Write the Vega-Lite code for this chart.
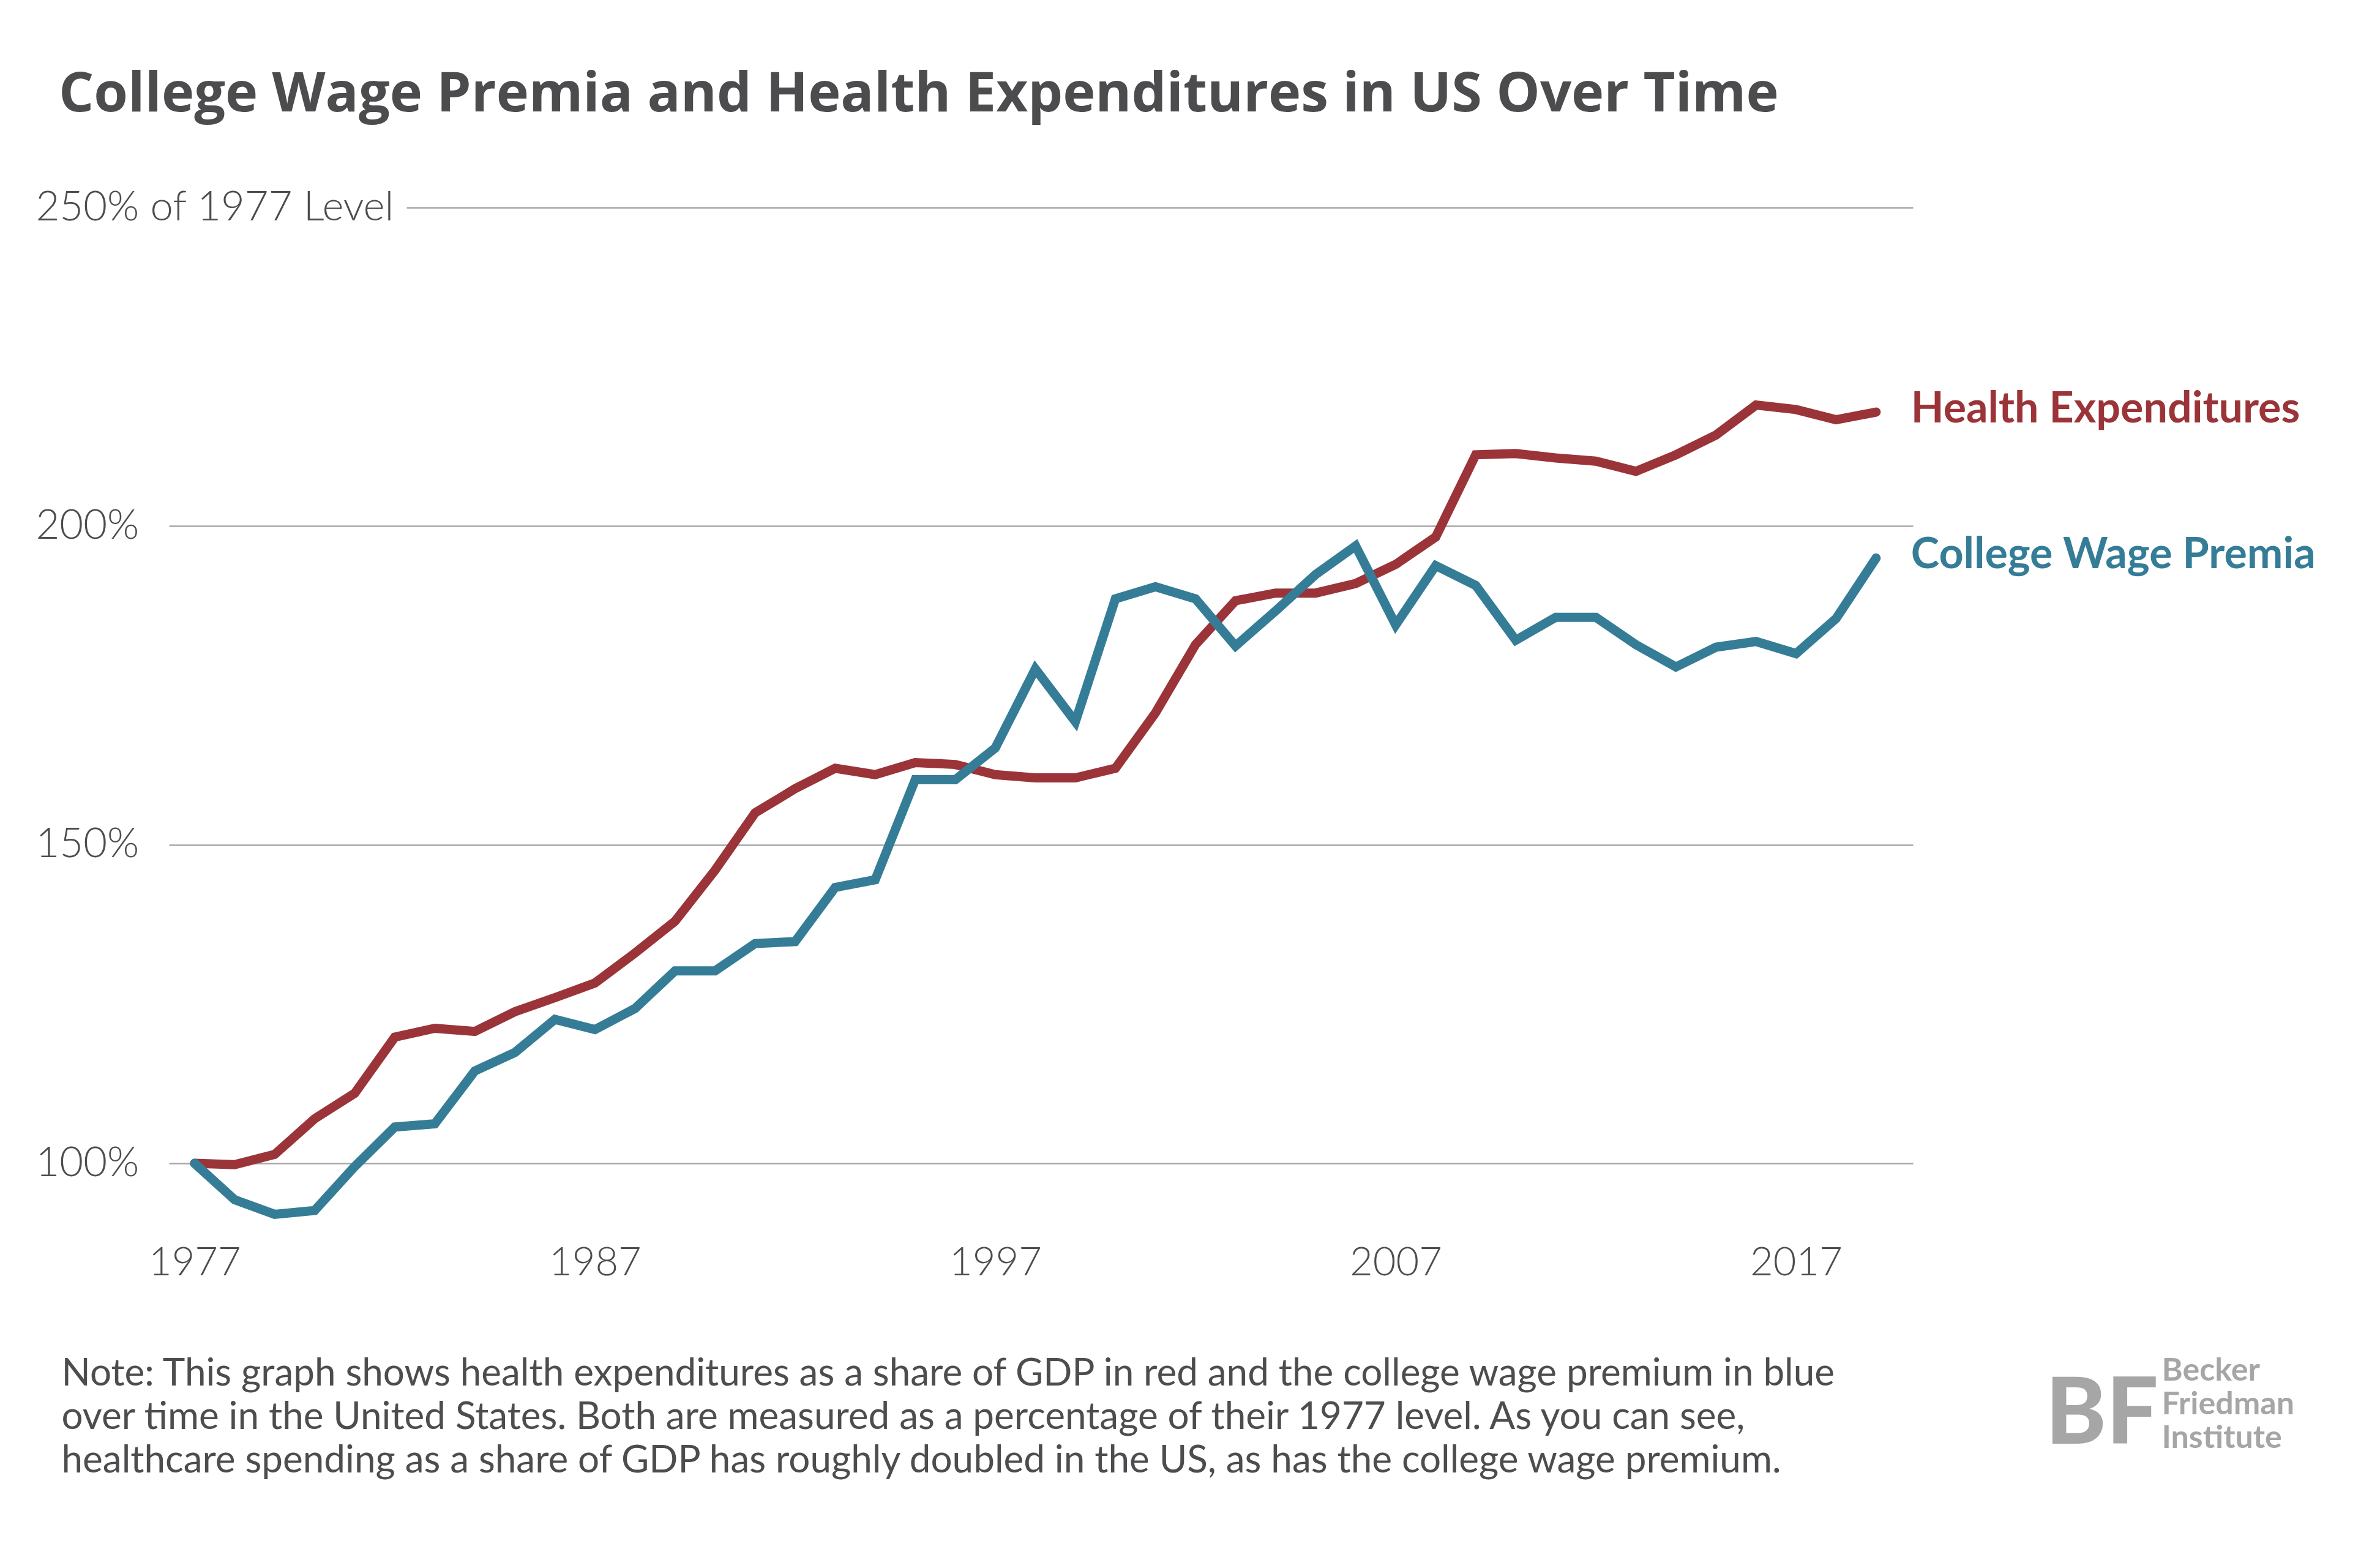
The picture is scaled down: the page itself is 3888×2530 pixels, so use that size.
{
  "$schema": "https://vega.github.io/schema/vega-lite/v6.json",
  "width": 2849,
  "height": 1686,
  "autosize": "none",
  "padding": {"left": 276, "top": 339, "right": 763, "bottom": 505},
  "background": "white",
  "config": {"view": {"stroke": null}, "font": "Lato"},
  "title": {
    "text": "College Wage Premia and Health Expenditures in US Over Time",
    "anchor": "start",
    "frame": "group",
    "dx": -180,
    "offset": 33,
    "baseline": "alphabetic",
    "fontSize": 90,
    "font": "Open Sans",
    "fontWeight": "bold",
    "color": "#4c4c4e"
  },
  "data": {
    "values": [
      {"year": 1977, "series": "Health Expenditures", "value": 100},
      {"year": 1978, "series": "Health Expenditures", "value": 99.8},
      {"year": 1979, "series": "Health Expenditures", "value": 101.4},
      {"year": 1980, "series": "Health Expenditures", "value": 107},
      {"year": 1981, "series": "Health Expenditures", "value": 111},
      {"year": 1982, "series": "Health Expenditures", "value": 119.8},
      {"year": 1983, "series": "Health Expenditures", "value": 121.2},
      {"year": 1984, "series": "Health Expenditures", "value": 120.7},
      {"year": 1985, "series": "Health Expenditures", "value": 123.8},
      {"year": 1986, "series": "Health Expenditures", "value": 126},
      {"year": 1987, "series": "Health Expenditures", "value": 128.3},
      {"year": 1988, "series": "Health Expenditures", "value": 133},
      {"year": 1989, "series": "Health Expenditures", "value": 138},
      {"year": 1990, "series": "Health Expenditures", "value": 146},
      {"year": 1991, "series": "Health Expenditures", "value": 155},
      {"year": 1992, "series": "Health Expenditures", "value": 158.8},
      {"year": 1993, "series": "Health Expenditures", "value": 162},
      {"year": 1994, "series": "Health Expenditures", "value": 161},
      {"year": 1995, "series": "Health Expenditures", "value": 162.9},
      {"year": 1996, "series": "Health Expenditures", "value": 162.6},
      {"year": 1997, "series": "Health Expenditures", "value": 161},
      {"year": 1998, "series": "Health Expenditures", "value": 160.5},
      {"year": 1999, "series": "Health Expenditures", "value": 160.5},
      {"year": 2000, "series": "Health Expenditures", "value": 162},
      {"year": 2001, "series": "Health Expenditures", "value": 170.7},
      {"year": 2002, "series": "Health Expenditures", "value": 181.4},
      {"year": 2003, "series": "Health Expenditures", "value": 188.3},
      {"year": 2004, "series": "Health Expenditures", "value": 189.5},
      {"year": 2005, "series": "Health Expenditures", "value": 189.5},
      {"year": 2006, "series": "Health Expenditures", "value": 191},
      {"year": 2007, "series": "Health Expenditures", "value": 194},
      {"year": 2008, "series": "Health Expenditures", "value": 198.3},
      {"year": 2009, "series": "Health Expenditures", "value": 211.2},
      {"year": 2010, "series": "Health Expenditures", "value": 211.4},
      {"year": 2011, "series": "Health Expenditures", "value": 210.7},
      {"year": 2012, "series": "Health Expenditures", "value": 210.2},
      {"year": 2013, "series": "Health Expenditures", "value": 208.6},
      {"year": 2014, "series": "Health Expenditures", "value": 211.2},
      {"year": 2015, "series": "Health Expenditures", "value": 214.3},
      {"year": 2016, "series": "Health Expenditures", "value": 219},
      {"year": 2017, "series": "Health Expenditures", "value": 218.3},
      {"year": 2018, "series": "Health Expenditures", "value": 216.7},
      {"year": 2019, "series": "Health Expenditures", "value": 217.9},
      {"year": 1977, "series": "College Wage Premia", "value": 100},
      {"year": 1978, "series": "College Wage Premia", "value": 94.3},
      {"year": 1979, "series": "College Wage Premia", "value": 92},
      {"year": 1980, "series": "College Wage Premia", "value": 92.6},
      {"year": 1981, "series": "College Wage Premia", "value": 99.5},
      {"year": 1982, "series": "College Wage Premia", "value": 105.7},
      {"year": 1983, "series": "College Wage Premia", "value": 106.2},
      {"year": 1984, "series": "College Wage Premia", "value": 114.5},
      {"year": 1985, "series": "College Wage Premia", "value": 117.4},
      {"year": 1986, "series": "College Wage Premia", "value": 122.6},
      {"year": 1987, "series": "College Wage Premia", "value": 121},
      {"year": 1988, "series": "College Wage Premia", "value": 124.3},
      {"year": 1989, "series": "College Wage Premia", "value": 130.2},
      {"year": 1990, "series": "College Wage Premia", "value": 130.2},
      {"year": 1991, "series": "College Wage Premia", "value": 134.5},
      {"year": 1992, "series": "College Wage Premia", "value": 134.8},
      {"year": 1993, "series": "College Wage Premia", "value": 143.3},
      {"year": 1994, "series": "College Wage Premia", "value": 144.5},
      {"year": 1995, "series": "College Wage Premia", "value": 160.2},
      {"year": 1996, "series": "College Wage Premia", "value": 160.2},
      {"year": 1997, "series": "College Wage Premia", "value": 165.2},
      {"year": 1998, "series": "College Wage Premia", "value": 177.6},
      {"year": 1999, "series": "College Wage Premia", "value": 169.3},
      {"year": 2000, "series": "College Wage Premia", "value": 188.6},
      {"year": 2001, "series": "College Wage Premia", "value": 190.5},
      {"year": 2002, "series": "College Wage Premia", "value": 188.6},
      {"year": 2003, "series": "College Wage Premia", "value": 181.2},
      {"year": 2004, "series": "College Wage Premia", "value": 186.7},
      {"year": 2005, "series": "College Wage Premia", "value": 192.4},
      {"year": 2006, "series": "College Wage Premia", "value": 196.9},
      {"year": 2007, "series": "College Wage Premia", "value": 184.5},
      {"year": 2008, "series": "College Wage Premia", "value": 193.8},
      {"year": 2009, "series": "College Wage Premia", "value": 190.7},
      {"year": 2010, "series": "College Wage Premia", "value": 182.1},
      {"year": 2011, "series": "College Wage Premia", "value": 185.7},
      {"year": 2012, "series": "College Wage Premia", "value": 185.7},
      {"year": 2013, "series": "College Wage Premia", "value": 181.4},
      {"year": 2014, "series": "College Wage Premia", "value": 177.9},
      {"year": 2015, "series": "College Wage Premia", "value": 181},
      {"year": 2016, "series": "College Wage Premia", "value": 181.9},
      {"year": 2017, "series": "College Wage Premia", "value": 180},
      {"year": 2018, "series": "College Wage Premia", "value": 185.5},
      {"year": 2019, "series": "College Wage Premia", "value": 195}
    ]
  },
  "resolve": {"scale": {"y": "independent"}, "axis": {"y": "independent", "x": "shared"}},
  "layer": [
    {
      "mark": {"type": "line", "strokeWidth": 15, "strokeCap": "round", "strokeJoin": "miter"},
      "encoding": {
        "x": {
          "field": "year",
          "type": "quantitative",
          "scale": {"domain": [1976.36, 2019.92], "nice": false, "zero": false},
          "axis": {
            "orient": "bottom",
            "values": [1977, 1987, 1997, 2007, 2017],
            "format": "d",
            "domain": false,
            "ticks": false,
            "grid": false,
            "labelPadding": 6,
            "labelFontSize": 65,
            "labelFont": "Lato",
            "labelFontWeight": 300,
            "labelColor": "#4d4d4f",
            "labelLimit": 0,
            "title": [
              "Note: This graph shows health expenditures as a share of GDP in red and the college wage premium in blue",
              "over time in the United States. Both are measured as a percentage of their 1977 level. As you can see,",
              "healthcare spending as a share of GDP has roughly doubled in the US, as has the college wage premium."
            ],
            "titleAlign": "left",
            "titleAnchor": "start",
            "titleX": -176,
            "titleY": 237,
            "titleBaseline": "alphabetic",
            "titleFontSize": 62,
            "titleFontWeight": "normal",
            "titleFont": "Lato",
            "titleColor": "#4d4d4f",
            "titleLineHeight": 71,
            "titleLimit": 0
          }
        },
        "y": {
          "field": "value",
          "type": "quantitative",
          "scale": {"domain": [88, 250], "nice": false, "zero": false},
          "axis": {
            "values": [100, 150, 200, 250],
            "labelExpr": "datum.value == 250 ? '250% of 1977 Level' : datum.value + '%'",
            "domain": false,
            "ticks": false,
            "tickSize": 0,
            "labelAlign": "left",
            "labelBaseline": "middle",
            "labelPadding": 218,
            "labelLimit": 0,
            "labelFontSize": 67,
            "labelFont": "Lato",
            "labelFontWeight": 300,
            "labelColor": "#4d4d4f",
            "grid": true,
            "gridColor": "#a8a8a8",
            "gridWidth": 2.5,
            "gridDash": {"condition": {"test": "datum.value === 250", "value": [0, 388, 3000]}, "value": []},
            "title": ["Becker", "Friedman", "Institute"],
            "titleAngle": 0,
            "titleAlign": "left",
            "titleBaseline": "alphabetic",
            "titleX": 3255,
            "titleY": 1915,
            "titleFontSize": 52,
            "titleFontWeight": "bold",
            "titleFont": "Lato",
            "titleColor": "#a6a6a6",
            "titleLineHeight": 55,
            "titleLimit": 0
          }
        },
        "color": {
          "field": "series",
          "type": "nominal",
          "scale": {"domain": ["Health Expenditures", "College Wage Premia"], "range": ["#9b3439", "#357d97"]},
          "legend": null
        }
      }
    },
    {
      "transform": [{"filter": "datum.year == 2019"}],
      "mark": {"type": "text", "align": "left", "baseline": "middle", "dx": 57, "dy": -4, "fontSize": 70, "fontWeight": "bold", "font": "Lato"},
      "encoding": {
        "x": {"field": "year", "type": "quantitative", "scale": {"domain": [1976.36, 2019.92], "nice": false, "zero": false}},
        "y": {
          "field": "value",
          "type": "quantitative",
          "scale": {"domain": [88, 250], "nice": false, "zero": false},
          "axis": {
            "orient": "right",
            "labels": false,
            "ticks": false,
            "domain": false,
            "grid": false,
            "title": "BF",
            "titleAngle": 0,
            "titleAlign": "left",
            "titleBaseline": "alphabetic",
            "titleX": 216,
            "titleY": 2018,
            "titleFontSize": 150,
            "titleFontWeight": 900,
            "titleFont": "Lato",
            "titleColor": "#a6a6a6"
          }
        },
        "text": {"field": "series"},
        "color": {
          "field": "series",
          "type": "nominal",
          "scale": {"domain": ["Health Expenditures", "College Wage Premia"], "range": ["#9b3439", "#357d97"]},
          "legend": null
        }
      }
    }
  ]
}
